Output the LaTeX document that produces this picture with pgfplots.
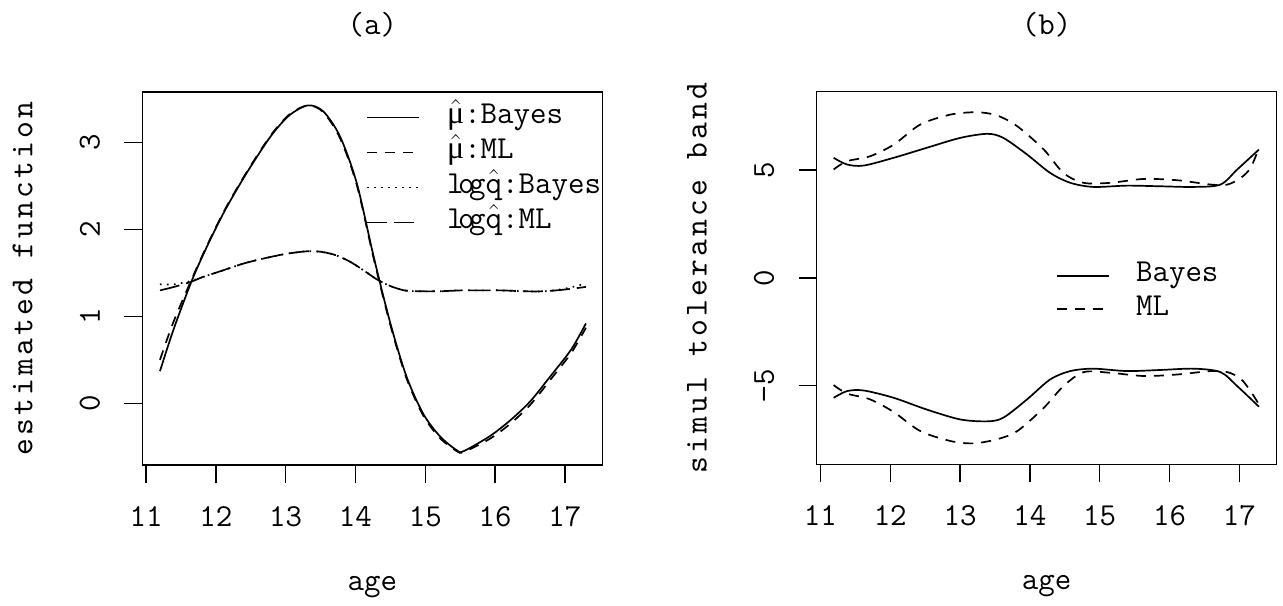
\documentclass[border=0pt]{standalone}
\usepackage{pgfplots}
\pgfplotsset{compat=1.18}
\usepackage{fontspec}
\newfontfamily\symf{Liberation Serif}
\newfontfamily\spacedtt{lmmono10-regular.otf}[LetterSpace=10]
\renewcommand\familydefault{\ttdefault}
\newcommand\lgq{l\kern-0.17em o\kern-0.17em g\ensuremath{\hat{\mbox{q}}}}
\newcommand\muh{\ensuremath{\hat{\mbox{\symf μ}}}}
\newcommand\ylab[1]{{\spacedtt #1}}
\begin{document}
\begin{tikzpicture}
\path[use as bounding box] (0,0) rectangle (641.5pt,302.5pt);
\pgfplotsset{
 every axis/.append style={
  scale only axis, width=230pt, height=186.5pt,
  axis line style={line width=0.7pt},
  every tick/.style={black, line width=0.7pt},
  tick align=outside, major tick length=9pt,
  tick pos=left,
  font=\fontsize{16}{18}\ttfamily,
  xtick={11,12,13,14,15,16,17}, xticklabels={11,12,13,14,15,16,17},
  xticklabel style={anchor=north, inner sep=0pt},
  xticklabel shift=11.5pt,
  yticklabel style={rotate=90, anchor=south, inner sep=0pt},
  yticklabel shift=12pt,
  xmin=10.947, xmax=17.535,
  every axis title/.style={at={(axis description cs:0.5,1.1796)}, anchor=center, inner sep=0pt},
  every axis x label/.style={at={(axis description cs:0.5,-0.327)}, anchor=center, inner sep=0pt},
  every axis y label/.style={at={(axis description cs:-0.2391,0.5)}, rotate=90, anchor=base, inner sep=0pt},
  legend image code/.code={\draw[#1] (0pt,0pt) -- (26pt,0pt);},
  legend cell align=left,
  every axis plot/.append style={line width=0.85pt, black, smooth, tension=0.5},
 },
 sol/.style={solid},
 dsh/.style={dash pattern=on 5pt off 4pt},
 dtt/.style={dash pattern=on 0.8pt off 2.7pt},
 lds/.style={dash pattern=on 10pt off 3.5pt},
}
\begin{axis}[at={(71.15pt,70pt)}, anchor=south west,
  ymin=-0.710, ymax=3.584,
  ytick={0,1,2,3}, yticklabels={0,1,2,3},
  title={(a)}, xlabel={age}, ylabel={\ylab{estimated function}},
  legend style={draw=none, fill=none, at={(axis description cs:0.4863,0.9705)}, anchor=north west,
    inner sep=0pt, row sep=3.5pt, nodes={inner sep=0pt, text height=10pt, text depth=4pt},
    /tikz/every odd column/.append style={column sep=13.5pt}},
]
\addplot[sol] coordinates {(11.20,0.37)(11.39,0.84)(11.65,1.40)(11.87,1.80)(12.11,2.19)(12.35,2.53)(12.59,2.84)(12.82,3.11)(13.06,3.32)(13.32,3.43)(13.54,3.36)(13.78,3.07)(14.02,2.53)(14.26,1.69)(14.50,0.92)(14.73,0.31)(14.97,-0.12)(15.21,-0.38)(15.45,-0.54)(15.55,-0.55)(15.92,-0.38)(16.21,-0.20)(16.50,0.02)(16.79,0.31)(17.09,0.62)(17.30,0.92)};
\addlegendentry{\muh:Bayes}
\addplot[dsh] coordinates {(11.20,0.50)(11.39,0.93)(11.65,1.42)(11.87,1.81)(12.11,2.20)(12.35,2.54)(12.59,2.85)(12.82,3.12)(13.06,3.33)(13.32,3.43)(13.54,3.35)(13.78,3.05)(14.02,2.51)(14.26,1.67)(14.50,0.90)(14.73,0.29)(14.97,-0.14)(15.21,-0.40)(15.45,-0.55)(15.55,-0.56)(15.92,-0.41)(16.21,-0.24)(16.50,-0.02)(16.79,0.27)(17.09,0.58)(17.30,0.87)};
\addlegendentry{\muh:ML}
\addplot[dtt] coordinates {(11.20,1.37)(11.40,1.37)(11.65,1.41)(11.8,1.45)(12.1,1.53)(12.4,1.61)(12.7,1.67)(13.0,1.72)(13.3,1.75)(13.5,1.745)(13.7,1.71)(13.9,1.64)(14.1,1.54)(14.3,1.43)(14.5,1.35)(14.7,1.30)(14.9,1.29)(15.2,1.29)(15.5,1.30)(15.8,1.30)(16.1,1.30)(16.4,1.29)(16.7,1.29)(17.0,1.32)(17.3,1.38)};
\addlegendentry{\lgq:Bayes}
\addplot[lds] coordinates {(11.20,1.30)(11.40,1.34)(11.65,1.40)(11.8,1.45)(12.1,1.53)(12.4,1.61)(12.7,1.67)(13.0,1.72)(13.3,1.75)(13.5,1.745)(13.7,1.71)(13.9,1.64)(14.1,1.54)(14.3,1.43)(14.5,1.35)(14.7,1.30)(14.9,1.29)(15.2,1.29)(15.5,1.30)(15.8,1.30)(16.1,1.30)(16.4,1.29)(16.7,1.29)(17.0,1.31)(17.3,1.34)};
\addlegendentry{\lgq:ML}
\end{axis}
\begin{axis}[at={(408.35pt,70.35pt)}, anchor=south west,
  ymin=-8.64, ymax=8.64,
  ytick={-5,0,5}, yticklabels={−5,0,5},
  title={(b)}, xlabel={age}, ylabel={\ylab{simul tolerance band}},
  legend style={draw=none, fill=none, at={(axis description cs:0.5188,0.5442)}, anchor=north west,
    inner sep=0pt, row sep=2.65pt, nodes={inner sep=0pt, text height=10pt, text depth=4pt},
    /tikz/every odd column/.append style={column sep=13.3pt}},
]
\addplot[sol] coordinates {(11.19,5.56)(11.38,5.25)(11.62,5.20)(12.05,5.56)(12.52,6.02)(13.00,6.48)(13.39,6.67)(13.62,6.48)(13.96,5.71)(14.29,4.86)(14.58,4.40)(14.91,4.21)(15.39,4.27)(15.87,4.24)(16.35,4.21)(16.73,4.32)(16.97,5.02)(17.28,5.94)};
\addlegendentry{Bayes}
\addplot[dsh] coordinates {(11.19,5.02)(11.38,5.40)(11.71,5.63)(12.05,6.17)(12.43,7.10)(12.86,7.56)(13.24,7.67)(13.53,7.52)(13.82,7.02)(14.20,5.94)(14.48,4.86)(14.77,4.40)(15.15,4.40)(15.63,4.58)(16.11,4.52)(16.59,4.32)(16.83,4.32)(17.02,4.63)(17.16,5.09)(17.28,6.02)};
\addlegendentry{ML}
\addplot[sol] coordinates {(11.19,-5.56)(11.38,-5.25)(11.62,-5.22)(12.05,-5.56)(12.52,-6.10)(13.00,-6.56)(13.39,-6.65)(13.62,-6.48)(13.96,-5.63)(14.29,-4.71)(14.58,-4.32)(14.91,-4.21)(15.39,-4.32)(15.87,-4.27)(16.35,-4.21)(16.73,-4.37)(16.97,-5.02)(17.28,-5.97)};
\addplot[dsh] coordinates {(11.19,-4.97)(11.38,-5.36)(11.71,-5.63)(12.05,-6.22)(12.43,-7.10)(12.86,-7.56)(13.19,-7.67)(13.53,-7.48)(13.82,-7.10)(14.20,-6.02)(14.48,-5.02)(14.77,-4.37)(15.15,-4.40)(15.63,-4.55)(16.11,-4.48)(16.59,-4.32)(16.83,-4.37)(17.02,-4.68)(17.16,-5.25)(17.28,-5.86)};
\end{axis}
\end{tikzpicture}
\end{document}
